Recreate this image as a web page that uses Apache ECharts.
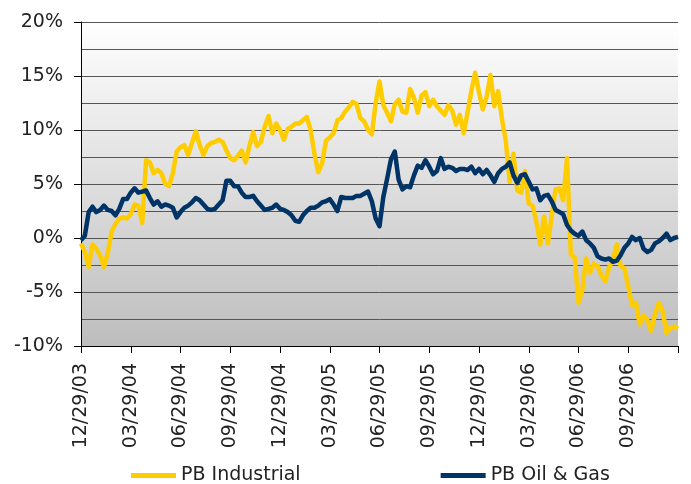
<!DOCTYPE html>
<html>
<head>
<meta charset="utf-8">
<script src="https://cdn.jsdelivr.net/npm/echarts@6/dist/echarts.min.js"></script>
<style>
html,body{margin:0;padding:0;background:#fff;}
#chart{width:691px;height:484px;}
</style>
</head>
<body>
<div id="chart"></div>
<script>
// Weekly observations starting 12/29/03 (157 points, 13 per quarter)
const tickLabels = ["12/29/03","03/29/04","06/29/04","09/29/04","12/29/04","03/29/05","06/29/05","09/29/05","12/29/05","03/29/06","06/29/06","09/29/06"];
const seriesNames = ["PB Industrial", "PB Oil & Gas"];

const pbIndustrial = [
 -0.5,-1.3,-2.7,-0.6,-1.0,-1.6,-2.7,-1.4,0.6,1.3,
 1.8,1.9,1.8,2.2,3.1,3.0,1.4,7.2,7.0,6.0,
 6.3,6.0,5.0,4.8,6.0,8.0,8.4,8.6,7.7,8.8,
 9.9,8.6,7.7,8.5,8.8,8.9,9.1,8.9,8.1,7.4,
 7.2,7.6,8.1,7.0,8.5,9.8,8.5,8.9,10.3,11.3,
 9.7,10.6,10.0,9.1,10.1,10.3,10.6,10.6,10.9,11.2,
 10.0,7.8,6.1,6.9,9.0,9.3,9.7,10.9,11.1,11.7,
 12.1,12.6,12.4,11.1,10.8,10.0,9.6,12.5,14.5,12.3,
 11.6,10.8,12.4,12.8,11.7,11.6,13.8,13.0,11.6,13.2,
 13.5,12.2,12.8,12.2,11.8,11.4,12.3,11.8,10.5,11.4,
 9.7,11.6,13.6,15.3,13.5,11.9,13.1,15.1,12.2,13.6,
 11.0,9.0,5.2,7.8,4.4,4.2,6.2,3.2,3.0,1.5,
 -0.6,2.0,-0.5,2.0,4.5,4.6,3.5,7.4,-1.5,-1.8,
 -6.0,-4.8,-1.9,-3.2,-2.4,-2.6,-3.5,-4.0,-2.7,-2.0,
 -0.6,-2.6,-2.8,-4.5,-6.2,-6.0,-8.0,-7.2,-7.6,-8.6,
 -7.0,-6.0,-6.8,-8.8,-8.3,-8.2,-8.4
];

const pbOilGas = [
 -0.2,0.2,2.4,2.9,2.4,2.6,3.0,2.6,2.5,2.1,
 2.7,3.6,3.6,4.2,4.6,4.2,4.3,4.4,3.7,3.1,
 3.4,2.9,3.1,3.0,2.8,1.9,2.4,2.8,3.0,3.3,
 3.7,3.5,3.1,2.7,2.6,2.7,3.1,3.5,5.3,5.3,
 4.8,4.8,4.2,3.8,3.8,3.9,3.4,3.0,2.6,2.7,
 2.8,3.1,2.7,2.6,2.4,2.1,1.6,1.5,2.1,2.5,
 2.8,2.8,3.0,3.3,3.4,3.6,3.1,2.5,3.8,3.7,
 3.7,3.7,3.9,3.9,4.1,4.3,3.4,1.8,1.1,3.8,
 5.5,7.3,8.0,5.4,4.5,4.8,4.7,5.8,6.7,6.5,
 7.2,6.6,5.9,6.2,7.4,6.4,6.6,6.5,6.2,6.4,
 6.4,6.3,6.6,6.0,6.4,5.9,6.3,5.8,5.2,6.0,
 6.4,6.6,7.0,5.8,5.1,5.8,5.9,5.2,4.5,4.6,
 3.5,3.9,4.0,3.4,2.6,2.4,2.2,1.2,0.7,0.4,
 0.2,0.6,-0.2,-0.5,-0.9,-1.7,-1.9,-2.0,-1.9,-2.2,
 -2.1,-1.6,-0.9,-0.5,0.1,-0.2,0.0,-1.0,-1.3,-1.1,
 -0.5,-0.3,0.0,0.4,-0.2,0.0,0.1
];

const colors = ["#FFCC00", "#003366"];
const weeksPerTick = 13;
const categories = pbIndustrial.map((_, i) => String(i));

const chart = echarts.init(document.getElementById('chart'), null, {renderer: 'canvas'});
const font = 'DejaVu Sans, Verdana, sans-serif';
const fs = 19;

chart.setOption({
  animation: false,
  backgroundColor: '#ffffff',
  grid: {
    left: 81, right: 13, top: 22, bottom: 138,
    show: true,
    borderWidth: 0,
    backgroundColor: {
      type: 'linear', x: 0, y: 0, x2: 0, y2: 1,
      colorStops: [{offset: 0, color: '#ffffff'}, {offset: 1, color: '#bdbdbd'}]
    }
  },
  legend: {
    left: 126, top: 461,
    itemGap: 140, itemWidth: 45, itemHeight: 5,
    icon: 'rect',
    textStyle: {fontFamily: font, fontSize: fs, color: '#222'},
    data: seriesNames
  },
  xAxis: {
    type: 'category',
    data: categories,
    boundaryGap: false,
    axisLine: {onZero: false, lineStyle: {color: '#000', width: 1}},
    axisTick: {
      show: true, length: 7, inside: false,
      interval: (idx) => idx % weeksPerTick === 0,
      lineStyle: {color: '#000'}
    },
    axisLabel: {
      interval: (idx) => idx % weeksPerTick === 0,
      rotate: 90, margin: 17,
      fontFamily: font, fontSize: fs, color: '#222',
      formatter: (val, idx) => tickLabels[idx / weeksPerTick] || ''
    },
    splitLine: {show: false}
  },
  yAxis: {
    type: 'value',
    min: -10, max: 20, interval: 5,
    axisLine: {show: true, lineStyle: {color: '#000', width: 1}},
    axisTick: {show: true, length: 7, lineStyle: {color: '#000'}},
    axisLabel: {
      margin: 18, fontFamily: font, fontSize: fs, color: '#222',
      formatter: (v) => v + '%'
    },
    splitLine: {show: true, lineStyle: {color: '#555', width: 1}},
    minorTick: {show: false, splitNumber: 2},
    minorSplitLine: {show: true, lineStyle: {color: '#555', width: 1}}
  },
  series: [
    {
      name: seriesNames[0], type: 'line', data: pbIndustrial,
      symbol: 'none', color: colors[0],
      lineStyle: {width: 4.5, color: colors[0], join: 'round'}
    },
    {
      name: seriesNames[1], type: 'line', data: pbOilGas,
      symbol: 'none', color: colors[1],
      lineStyle: {width: 4.5, color: colors[1], join: 'round'}
    }
  ]
});
</script>
</body>
</html>
